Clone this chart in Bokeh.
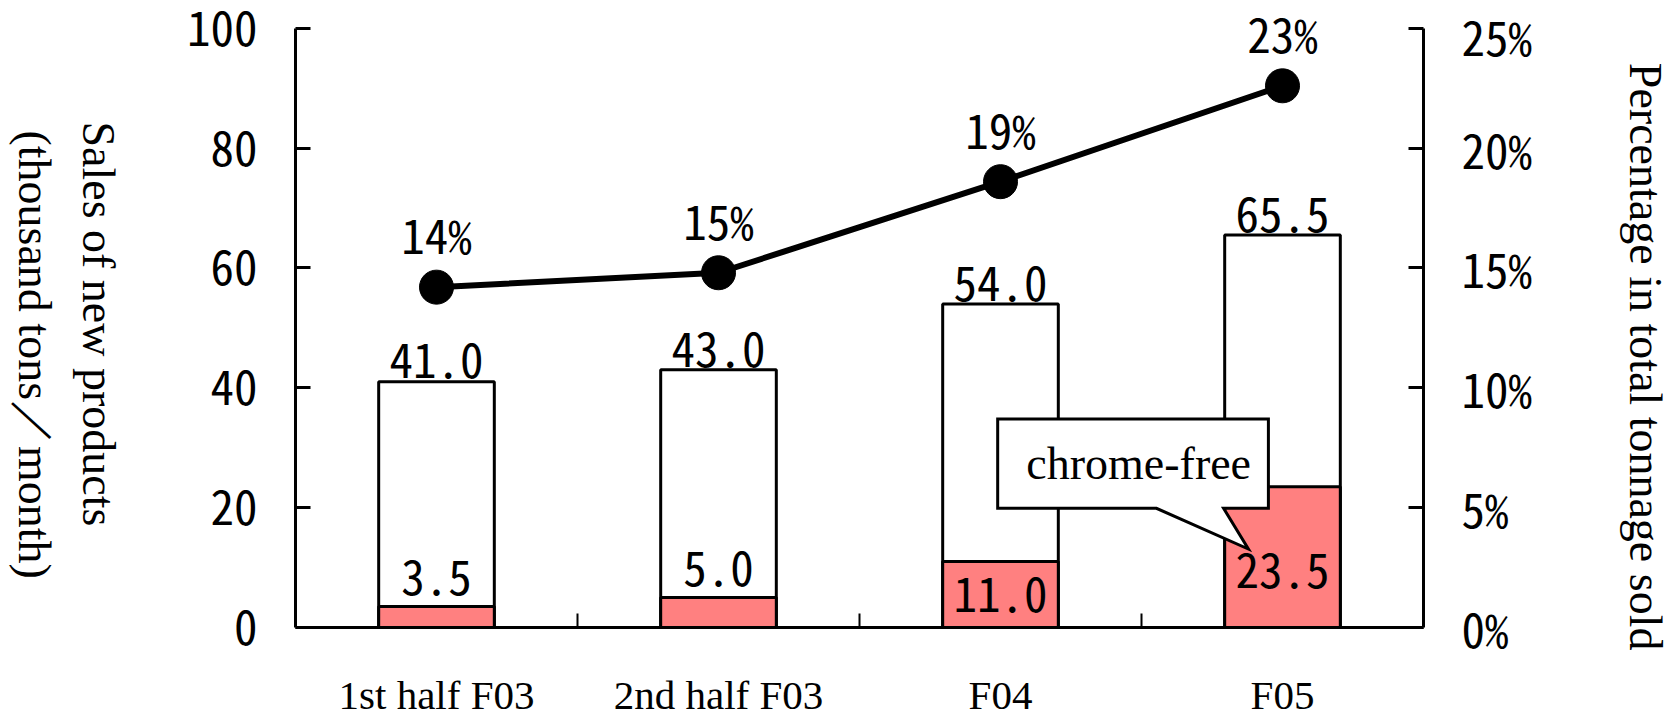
import numpy as np
from bokeh.plotting import figure
from bokeh.models import (ColumnDataSource, Range1d, LinearAxis, FixedTicker,
                          PrintfTickFormatter, Label)
from bokeh.core.properties import value
from bokeh.embed import file_html
from bokeh.resources import INLINE

# ---------------- data ----------------
categories = ["1st half F03", "2nd half F03", "F04", "F05"]
total_sales = [41.0, 43.0, 54.0, 65.5]          # thousand tons / month
chrome_free_sales = [3.5, 5.0, 11.0, 23.5]      # thousand tons / month
share_pct = [14.2, 14.8, 18.6, 22.6]            # % of total tonnage sold
share_labels = ["14%", "15%", "19%", "23%"]
left_ticks = [0, 20, 40, 60, 80, 100]
right_ticks = [0, 5, 10, 15, 20, 25]
left_title = ["Sales of new products", "(thousand tons／month)"]
right_title = "Percentage in total tonnage sold"
callout_text = "chrome-free"

# ---------------- styles / layout ----------------
NUM_FONT = "Noto Sans Mono CJK JP"
SERIF = "Liberation Serif"
RED = "#FF8080"
BAR_W = 0.41
W, H = 1668, 720
AX_TOP, AX_BOTTOM = 28, 632           # pixel rows of axis max / zero
AX_LEFT, AX_RIGHT = 295, 1423         # pixel columns of left / right axis
Y_MAX, PCT_MAX = 100, 25
px_y = Y_MAX / (AX_BOTTOM - AX_TOP)   # left-axis data units per pixel
px_pct = PCT_MAX / (AX_BOTTOM - AX_TOP)
n = len(categories)
px_x = n / (AX_RIGHT - AX_LEFT)       # category units per pixel


def to_x(px):
    return -0.5 + (px - AX_LEFT) * px_x


def to_y(py):
    return (AX_BOTTOM - py) * px_y


idx = list(range(n))

# frame reaches the top edge so labels above the axis top are not clipped
p = figure(width=W, height=H, output_backend="svg", toolbar_location=None,
           x_range=Range1d(-0.5, n - 0.5),
           y_range=Range1d(0, Y_MAX + AX_TOP * px_y),
           x_axis_type=None, y_axis_type=None,
           min_border_left=AX_LEFT, min_border_right=W - AX_RIGHT,
           min_border_top=0, min_border_bottom=H - AX_BOTTOM)
p.extra_y_ranges = {"pct": Range1d(0, PCT_MAX + AX_TOP * px_pct)}
p.outline_line_color = None
p.background_fill_color = "white"
p.border_fill_color = "white"
p.grid.visible = False

# axes
xaxis = LinearAxis(ticker=FixedTicker(ticks=idx, minor_ticks=[i + 0.5 for i in idx[:-1]]),
                   major_label_overrides={i: c for i, c in zip(idx, categories)})
xaxis.major_tick_in = 0
xaxis.major_tick_out = 0
xaxis.minor_tick_in = 14
xaxis.minor_tick_out = 0
xaxis.minor_tick_line_width = 2
xaxis.minor_tick_line_color = "black"
xaxis.axis_line_width = 3
xaxis.axis_line_color = "black"
xaxis.major_label_text_font = SERIF
xaxis.major_label_text_font_size = "41px"
xaxis.major_label_text_color = "black"
xaxis.major_label_standoff = 44
p.add_layout(xaxis, "below")

for ax, side in [(LinearAxis(ticker=FixedTicker(ticks=left_ticks), bounds=(0, Y_MAX)), "left"),
                 (LinearAxis(y_range_name="pct", ticker=FixedTicker(ticks=right_ticks),
                             bounds=(0, PCT_MAX),
                             formatter=PrintfTickFormatter(format="%d%%")), "right")]:
    ax.major_tick_in = 15
    ax.major_tick_out = 0
    ax.minor_tick_in = 0
    ax.minor_tick_out = 0
    ax.major_tick_line_width = 3
    ax.axis_line_width = 3
    ax.major_label_text_font = NUM_FONT
    ax.major_label_text_font_size = "47px"
    ax.major_label_text_color = "black"
    ax.major_label_standoff = 38
    p.add_layout(ax, side)

# bars
src = ColumnDataSource(dict(
    x=idx, total=total_sales, red=chrome_free_sales,
    total_lbl=[f"{v:.1f}" for v in total_sales],
    total_lbl_y=[v + 21 * px_y for v in total_sales],
    pct=share_pct, pct_lbl=share_labels,
    pct_lbl_y=[v + 54 * px_pct for v in share_pct],
))
p.vbar(x="x", top="total", width=BAR_W, bottom=0, source=src,
       fill_color="white", line_color="black", line_width=3)
p.vbar(x="x", top="red", width=BAR_W, bottom=0, source=src,
       fill_color=RED, line_color="black", line_width=3)

# line of share
p.line(x="x", y="pct", source=src, y_range_name="pct",
       line_color="black", line_width=6)
p.scatter(x="x", y="pct", source=src, y_range_name="pct", size=34,
          fill_color="black", line_color="black")

# callout (geometry in data units, pointing at the F05 chrome-free bar)
cb_left, cb_right, cb_bottom, cb_top = 1.99, 2.95, 19.9, 34.8
ptr_l, ptr_r, tip_x, tip_y = 2.553, 2.791, 2.879, 13.1
p.patch(x=[cb_left, cb_right, cb_right, ptr_r, tip_x, ptr_l, cb_left],
        y=[cb_top, cb_top, cb_bottom, cb_bottom, tip_y, cb_bottom, cb_bottom],
        fill_color="white", line_color="black", line_width=3, line_join="miter")
p.text(x=[(cb_left + cb_right) / 2 + 0.02], y=[(cb_top + cb_bottom) / 2],
       text=[callout_text], text_font=value(SERIF), text_font_size="46px",
       text_align="center", text_baseline="middle", text_color="black")

# value labels
num_style = dict(text_font=value(NUM_FONT), text_font_size="47px", text_align="center",
                 text_baseline="middle", text_color="black")
p.text(x="x", y="total_lbl_y", text="total_lbl", source=src, **num_style)

above = [i for i, v in enumerate(chrome_free_sales) if v < 10]
inside = [i for i, v in enumerate(chrome_free_sales) if v >= 10]
p.text(x=[idx[i] for i in above],
       y=[chrome_free_sales[i] + 29 * px_y for i in above],
       text=[f"{chrome_free_sales[i]:.1f}" for i in above], **num_style)
# inside labels centred in the red bar, but kept clear below the callout tip
p.text(x=[idx[i] for i in inside],
       y=[min(chrome_free_sales[i] / 2, tip_y - 22 * px_y) for i in inside],
       text=[f"{chrome_free_sales[i]:.1f}" for i in inside], **num_style)

p.text(x="x", y="pct_lbl_y", text="pct_lbl", source=src, y_range_name="pct", **num_style)

# axis titles (rotated, reading top to bottom), placed in the side panels so
# they are not clipped to the plotting frame
title_kw = dict(x_units="data", y_units="data", angle=-np.pi / 2, text_align="center",
                text_baseline="middle", text_font=SERIF, text_font_size="46px",
                text_color="black")
p.add_layout(Label(x=to_x(98), y=to_y(326), text=left_title[0], **title_kw), "left")
p.add_layout(Label(x=to_x(34), y=to_y(357), text=left_title[1], **title_kw), "left")
p.add_layout(Label(x=to_x(1645), y=to_y(359), text=right_title, **title_kw), "right")

open("out.html", "w").write(file_html(p, INLINE))
